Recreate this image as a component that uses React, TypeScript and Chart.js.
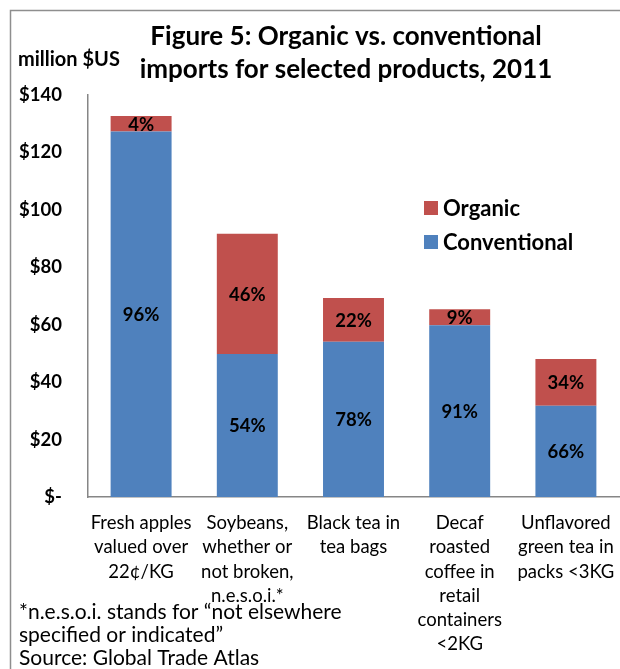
import React, { useEffect, useRef } from "react";
import { Chart, registerables } from "chart.js";

Chart.register(...registerables);

const categories: string[][] = [
  ["Fresh apples", "valued over", "22¢/KG"],
  ["Soybeans,", "whether or", "not broken,", "n.e.s.o.i.*"],
  ["Black tea in", "tea bags"],
  ["Decaf", "roasted", "coffee in", "retail", "containers", "<2KG"],
  ["Unflavored", "green tea in", "packs <3KG"],
];
const conventional = [127.3, 49.8, 54.1, 59.8, 31.8];
const organic = [5.4, 41.9, 15.2, 5.6, 16.3];
const yMin = 0;
const yMax = 140;
const yStep = 20;
const titleLines = ["Figure 5: Organic vs. conventional", "imports for selected products, 2011"];
const unitLabel = "million $US";
const footnotes = [
  "*n.e.s.o.i. stands for \u201cnot elsewhere",
  "specified or indicated\u201d",
  "Source: Global Trade Atlas",
];

const FONT = "Lato, 'Open Sans', sans-serif";
const BLUE = "#4F81BD";
const RED = "#C0504D";
const AXIS = "#868686";

const overlay = {
  id: "overlay",
  beforeDraw(chart: any) {
    const ctx = chart.ctx;
    ctx.save();
    ctx.fillStyle = "#fff";
    ctx.fillRect(0, 0, chart.width, chart.height);
    ctx.strokeStyle = "#8e8e8e";
    ctx.lineWidth = 1.5;
    ctx.beginPath();
    ctx.moveTo(10.5, chart.height + 5);
    ctx.lineTo(10.5, 10.5);
    ctx.lineTo(chart.width + 5, 10.5);
    ctx.stroke();
    ctx.restore();
  },
  afterDraw(chart: any) {
    const ctx = chart.ctx;
    ctx.save();
    ctx.fillStyle = "#000";
    ctx.textBaseline = "middle";
    // title
    ctx.textAlign = "center";
    ctx.font = `bold 26px ${FONT}`;
    titleLines.forEach((t, i) => ctx.fillText(t, 346, 37 + i * 33));
    // unit label
    ctx.textAlign = "left";
    ctx.font = `bold 20px ${FONT}`;
    ctx.fillText(unitLabel, 18, 60);
    // legend (reverse order)
    const ds = chart.data.datasets;
    const legendItems = [ds[1], ds[0]];
    ctx.font = `bold 22px ${FONT}`;
    legendItems.forEach((d: any, i: number) => {
      const cy = 208 + i * 34;
      ctx.fillStyle = d.backgroundColor;
      ctx.fillRect(424, cy - 7, 14, 14);
      ctx.fillStyle = "#000";
      ctx.fillText(d.label, 443, cy + 1);
    });
    // footnotes
    ctx.font = `21px ${FONT}`;
    footnotes.forEach((t, i) => ctx.fillText(t, 19, 612 + i * 23));
    // segment percentage labels
    ctx.textAlign = "center";
    ctx.font = `bold 18.5px ${FONT}`;
    const totals = conventional.map((v, i) => v + organic[i]);
    ds.forEach((d: any, di: number) => {
      const meta = chart.getDatasetMeta(di);
      meta.data.forEach((el: any, i: number) => {
        const pct = Math.round((d.data[i] / totals[i]) * 100);
        const cy = (el.y + el.base) / 2;
        ctx.fillText(pct + "%", el.x, cy + 1);
      });
    });
    ctx.restore();
  },
};

export default function App() {
  const ref = useRef<HTMLCanvasElement>(null);
  useEffect(() => {
    if (!ref.current) return;
    const chart = new Chart(ref.current, {
      type: "bar",
      data: {
        labels: categories as any,
        datasets: [
          {
            label: "Conventional",
            data: conventional,
            backgroundColor: BLUE,
            borderWidth: 0,
            barPercentage: 0.574,
            categoryPercentage: 1,
          },
          {
            label: "Organic",
            data: organic,
            backgroundColor: RED,
            borderWidth: 0,
            barPercentage: 0.574,
            categoryPercentage: 1,
          },
        ],
      },
      options: {
        responsive: false,
        animation: false,
        layout: { padding: { top: 95, right: 1, left: 0, bottom: 0 } },
        plugins: {
          legend: { display: false },
          title: { display: false },
          tooltip: { enabled: false },
        },
        scales: {
          x: {
            stacked: true,
            grid: { display: false, drawTicks: false },
            border: { display: true, color: AXIS, width: 1.5 },
            ticks: {
              color: "#000",
              font: { family: FONT, size: 18.5, lineHeight: 1.31 },
              padding: 14,
              maxRotation: 0,
              autoSkip: false,
            },
            afterFit: (s: any) => {
              s.height = 172;
              s.paddingLeft = 0;
              s.paddingRight = 0;
            },
          },
          y: {
            stacked: true,
            min: yMin,
            max: yMax,
            grid: { display: false, drawTicks: false },
            border: { display: true, color: AXIS, width: 1.5 },
            ticks: {
              stepSize: yStep,
              color: "#000",
              font: { family: FONT, size: 18.5, weight: "bold" },
              padding: 26,
              callback: (v: any) => (Number(v) === 0 ? "$-" : "$" + v),
            },
            afterFit: (s: any) => {
              s.width = 88;
              s.paddingTop = 0;
              s.paddingBottom = 0;
            },
          },
        },
      },
      plugins: [overlay],
    });
    return () => chart.destroy();
  }, []);
  return (
    <div style={{ position: "absolute", left: 0, top: 0, width: 620, height: 669, background: "#fff" }}>
      <canvas ref={ref} width={620} height={669} style={{ width: 620, height: 669, display: "block" }} />
    </div>
  );
}
